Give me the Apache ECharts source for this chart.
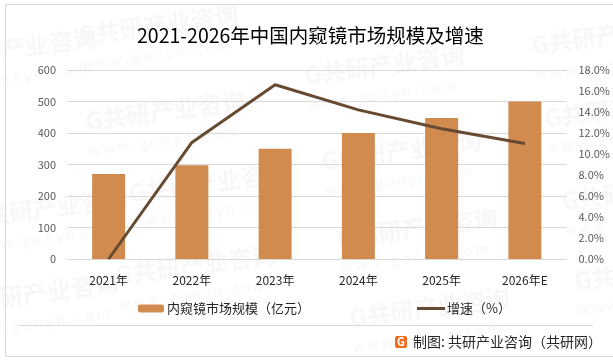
<!DOCTYPE html>
<html>
<head>
<meta charset="utf-8">
<style>html,body{margin:0;padding:0;background:#fff}#main{width:613px;height:361px}</style>
<script src="https://cdn.jsdelivr.net/npm/echarts@6/dist/echarts.min.js"></script>
</head>
<body>
<div id="main"></div>
<script>
var categories = ['2021年', '2022年', '2023年', '2024年', '2025年', '2026年E'];
var marketSize = [270, 298, 350, 400, 448, 500];
var growthRate = [0, 11.1, 16.6, 14.2, 12.4, 11.0];
var leftTicks = [0, 600, 100];
var rightTicks = [0, 18, 2];
var watermarks = [[-62, 70], [80, 47], [87, 133], [117, 287], [130, 205], [-30, 230], [-40, 315],
  [306, 87], [533, 57], [323, 173], [339, 250], [351, 330], [546, 130], [563, 213], [576, 293]];

var font = '"Noto Sans CJK SC", sans-serif';
var myChart = echarts.init(document.getElementById('main'));

var graphic = [];
watermarks.forEach(function (p) {
  graphic.push({type: 'text', x: p[0], y: p[1], rotation: 0.13, originX: 0, originY: 0, z: 0, silent: true,
    style: {text: 'G共研产业咨询', fill: '#f7f7f7', font: 'bold 24px ' + font, textVerticalAlign: 'bottom'}});
  graphic.push({type: 'text', x: p[0] + 3, y: p[1] + 24, rotation: 0.13, originX: 0, originY: 0, z: 0, silent: true,
    style: {text: 'w w w . g o n y n . c o m', fill: '#f7f7f7', font: '14px ' + font, textVerticalAlign: 'bottom'}});
});
// frame, footer rule and logo
graphic.push({type: 'rect', z: 1, shape: {x: 5.5, y: 4.5, width: 620, height: 352},
  style: {fill: 'none', stroke: '#d9d9d9', lineWidth: 1}});
graphic.push({type: 'line', z: 1, shape: {x1: 18, y1: 325.5, x2: 593, y2: 325.5},
  style: {stroke: '#d9d9d9', lineWidth: 1}});
graphic.push({type: 'rect', z: 1, shape: {x: 395, y: 336, width: 12, height: 12, r: 2},
  style: {fill: '#ee6c1f'}});
graphic.push({type: 'text', z: 2, x: 401, y: 342, style: {text: 'G', fill: '#fff', font: 'bold 11px ' + font,
  textAlign: 'center', textVerticalAlign: 'middle'}});
graphic.push({type: 'text', z: 2, x: 413, y: 342, style: {text: '制图: 共研产业咨询（共研网）', fill: '#262626',
  font: '14px ' + font, textVerticalAlign: 'middle'}});

var option = {
  animation: false,
  backgroundColor: '#fff',
  textStyle: {fontFamily: font},
  title: {
    text: '2021-2026年中国内窥镜市场规模及增速',
    left: 132, top: 21,
    textStyle: {color: '#000', fontSize: 19.5, fontWeight: 'normal', fontFamily: font}
  },
  graphic: graphic,
  grid: {left: 67, right: 45, top: 70, bottom: 102},
  legend: [
    {data: ['内窥镜市场规模（亿元）'], left: 138, top: 302, padding: 0, itemWidth: 26, itemHeight: 8,
      itemGap: 3, textStyle: {color: '#262626', fontSize: 13, padding: [0, 0, 0, -2]}},
    {data: ['增速（%）'], left: 417, top: 302, padding: 0, itemWidth: 28, itemHeight: 3,
      textStyle: {color: '#262626', fontSize: 13, padding: [0, 0, 0, -3]}, icon: 'rect'}
  ],
  xAxis: {
    type: 'category', data: categories,
    axisLine: {lineStyle: {color: '#d9d9d9'}},
    axisTick: {show: false},
    axisLabel: {color: '#262626', fontSize: 12, margin: 15}
  },
  yAxis: [
    {type: 'value', min: leftTicks[0], max: leftTicks[1], interval: leftTicks[2],
      axisLine: {show: false}, axisTick: {show: false},
      axisLabel: {color: '#595959', fontSize: 11, margin: 11},
      splitLine: {lineStyle: {color: '#d9d9d9'}}},
    {type: 'value', min: rightTicks[0], max: rightTicks[1], interval: rightTicks[2],
      axisLine: {show: false}, axisTick: {show: false},
      axisLabel: {color: '#595959', fontSize: 11, margin: 12, formatter: function (v) { return v.toFixed(1) + '%'; }},
      splitLine: {show: false}}
  ],
  series: [
    {name: '内窥镜市场规模（亿元）', type: 'bar', data: marketSize, barWidth: 33,
      itemStyle: {color: '#d18b4f'}},
    {name: '增速（%）', type: 'line', yAxisIndex: 1, data: growthRate, showSymbol: false,
      lineStyle: {color: '#664a32', width: 3, join: 'round'}, itemStyle: {color: '#664a32'}}
  ]
};
myChart.setOption(option);
</script>
</body>
</html>
